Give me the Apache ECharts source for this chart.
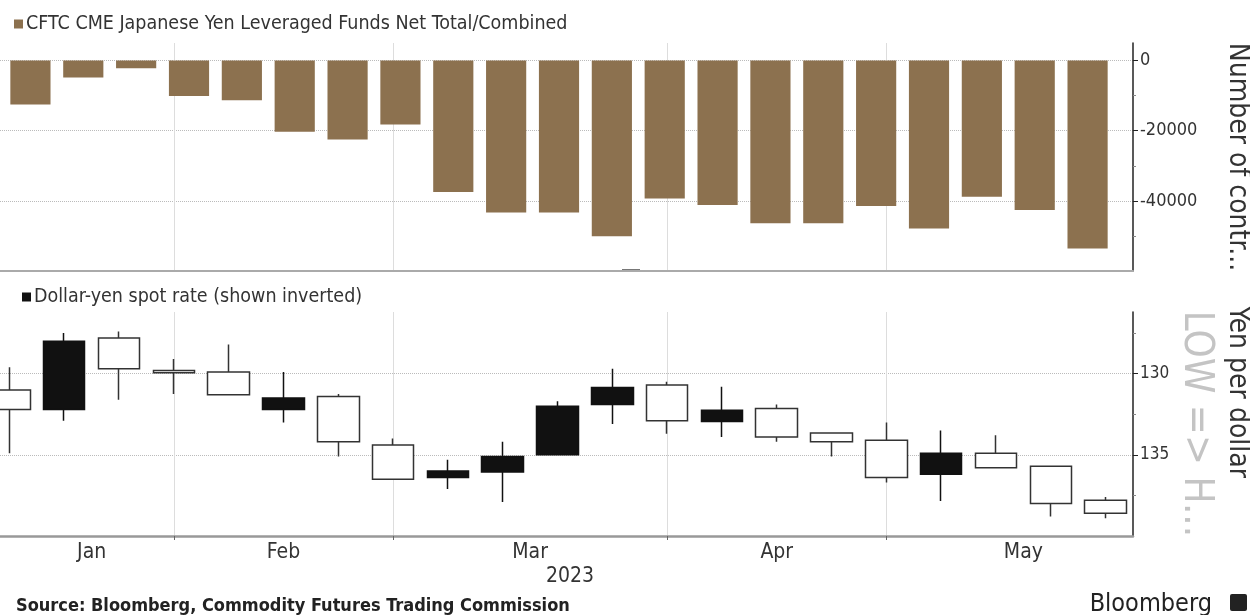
<!DOCTYPE html>
<html>
<head>
<meta charset="utf-8">
<script src="https://cdn.jsdelivr.net/npm/echarts@6/dist/echarts.min.js"></script>
<style>
html, body { margin: 0; padding: 0; background: #fff; }
#chart { width: 1250px; height: 615px; }
</style>
</head>
<body>
<div id="chart"></div>
<script>
// CFTC report dates (Tuesdays) and leveraged funds net positions
var cftcDates = ['2023-01-03','2023-01-10','2023-01-17','2023-01-24','2023-01-31','2023-02-07','2023-02-14',
    '2023-02-21','2023-02-28','2023-03-07','2023-03-14','2023-03-21','2023-03-28','2023-04-04','2023-04-11',
    '2023-04-18','2023-04-25','2023-05-02','2023-05-09','2023-05-16','2023-05-23'];
var netPositions = [-12500,-4800,-2200,-10100,-11300,-20300,-22500,-18200,-37500,-43300,-43300,
    -50100,-39300,-41200,-46400,-46400,-41500,-47900,-38800,-42600,-53600];
var contractTicks = [-40000, -20000, 0];
var contractMinorTicks = [-50000, -30000, -10000];

// weekly USDJPY candles (week ending)
var weeks = ['2023-01-06','2023-01-13','2023-01-20','2023-01-27','2023-02-03','2023-02-10','2023-02-17',
    '2023-02-24','2023-03-03','2023-03-10','2023-03-17','2023-03-24','2023-03-31','2023-04-07','2023-04-14',
    '2023-04-21','2023-04-28','2023-05-05','2023-05-12','2023-05-19','2023-05-26'];
var usdOpen  = [131.0,132.2,127.8,129.8,129.9,132.2,131.4,134.4,136.4,136.05,135.0,131.9,130.7,132.95,132.15,133.65,134.1,136.2,134.9,135.7,137.8];
var usdClose = [132.2,128.0,129.7,129.95,131.3,131.5,134.2,136.5,136.0,135.1,132.0,130.85,132.9,132.25,133.9,134.2,136.4,134.9,135.8,138.0,138.6];
var usdLow   = [129.6,127.5,127.4,129.1,128.2,129.9,131.25,134.0,135.3,134.2,131.7,129.7,130.5,130.8,131.9,133.65,133.0,133.5,133.8,135.7,137.6];
var usdHigh  = [134.9,132.9,131.6,131.25,131.3,133.0,135.1,136.5,137.1,137.9,135.0,133.1,133.7,133.9,134.2,135.1,136.7,137.85,135.8,138.8,138.9];

var monthLabels = ['Jan','Feb','Mar','Apr','May'];
var yenTicks = [130, 135];
var yenMinorTicks = [127.5, 132.5, 137.5];

// last week of each month -> vertical grid lines, labels centred between them
var monthEnds = [];
for (var i = 0; i < weeks.length - 1; i++) {
    if (weeks[i].slice(5, 7) != weeks[i + 1].slice(5, 7)) monthEnds.push(i);
}
var bounds = [0].concat(monthEnds, [weeks.length]);
var monthMids = [];
for (var j = 0; j < bounds.length - 1; j++) monthMids.push((bounds[j] + bounds[j + 1]) / 2);

var candleData = weeks.map(function (w, k) {
    return [usdOpen[k], usdClose[k], usdLow[k], usdHigh[k]];
});

var FONT = "'DejaVu Sans Condensed', 'Liberation Sans Narrow', 'DejaVu Sans', sans-serif";
var barName = 'CFTC CME Japanese Yen Leveraged Funds Net Total/Combined';
var fxName = 'Dollar-yen spot rate (shown inverted)';

var chart = echarts.init(document.getElementById('chart'));
var opt = {
    backgroundColor: '#fff',
    animation: false,
    textStyle: {fontFamily: FONT},
    title: [
        {text: 'Source: Bloomberg, Commodity Futures Trading Commission', left: 11, top: 592,
         textStyle: {fontFamily: FONT, fontSize: 18, fontWeight: 'bold', color: '#222'}},
        {text: 'Bloomberg', right: 33, top: 587,
         textStyle: {fontFamily: FONT, fontSize: 25, fontWeight: 'normal', color: '#222'}}
    ],
    graphic: [
        {type: 'rect', left: 1230, top: 594, shape: {width: 17, height: 17, r: 2}, style: {fill: '#222'}},
        {type: 'rect', left: 622, top: 269, shape: {width: 18, height: 3}, style: {fill: '#777'}}
    ],
    legend: [
        {data: [{name: barName, icon: 'rect'}], left: 9, top: 9, itemWidth: 9, itemHeight: 9, itemGap: 2,
         textStyle: {fontFamily: FONT, fontSize: 19.5, color: '#333', padding: [0, 0, 0, -2]}},
        {data: [{name: fxName, icon: 'rect', itemStyle: {color: '#111', borderWidth: 0}}], left: 17, top: 282,
         itemWidth: 9, itemHeight: 9, itemGap: 2,
         textStyle: {fontFamily: FONT, fontSize: 19.5, color: '#333', padding: [0, 0, 0, -2]}}
    ],
    grid: [
        {left: -18, right: 117, top: 43, height: 228, outerBoundsMode: 'none'},
        {left: 4, right: 136, top: 43, height: 228, outerBoundsMode: 'none'},
        {left: -18, right: 117, top: 312, height: 224, outerBoundsMode: 'none'}
    ],
    xAxis: [
        {gridIndex: 0, type: 'value', min: -0.5, max: weeks.length - 0.5, position: 'bottom',
         axisLine: {show: true, onZero: false, lineStyle: {color: '#aaa', width: 2}},
         axisTick: {show: false, customValues: monthEnds}, axisLabel: {show: false},
         splitLine: {show: true, lineStyle: {color: '#ddd', width: 1}}},
        {gridIndex: 1, type: 'category', data: cftcDates, show: false},
        {gridIndex: 2, type: 'category', data: weeks, position: 'bottom',
         axisLine: {show: true, onZero: false, lineStyle: {color: '#999', width: 2.5}},
         axisTick: {show: false}, axisLabel: {show: false}, splitLine: {show: false}},
        {gridIndex: 2, type: 'value', min: -0.5, max: weeks.length - 0.5, position: 'bottom',
         axisLine: {show: false, onZero: false},
         axisTick: {show: true, customValues: monthEnds, length: 4, lineStyle: {color: '#666'}},
         axisLabel: {customValues: monthMids, margin: 6, fontSize: 21, color: '#333',
            formatter: function (v) { return monthLabels[monthMids.indexOf(v)]; }},
         splitLine: {show: true, lineStyle: {color: '#ddd', width: 1}},
         name: '2023', nameLocation: 'middle', nameGap: 30,
         nameTextStyle: {fontSize: 21, color: '#333', padding: [0, 0, 0, 25]}}
    ],
    yAxis: [
        {gridIndex: 0, type: 'value', position: 'right', min: -60000, max: 5000,
         axisLine: {show: true, onZero: false, lineStyle: {color: '#222', width: 1.5}},
         axisTick: {show: true, customValues: contractTicks, length: 5, lineStyle: {color: '#222'}},
         axisLabel: {customValues: contractTicks, margin: 7, fontSize: 18, color: '#333',
            formatter: function (v) { return String(v); }},
         splitLine: {show: true, lineStyle: {type: 'dotted', color: '#bbb'}},
         name: 'Number of contr...', nameLocation: 'middle', nameRotate: -90, nameGap: 90,
         nameTextStyle: {fontSize: 28, color: '#333'}},
        {gridIndex: 1, type: 'value', min: -60000, max: 5000, show: false},
        {gridIndex: 0, type: 'value', position: 'right', min: -60000, max: 5000,
         axisLine: {show: false, onZero: false},
         axisTick: {show: true, customValues: contractMinorTicks, length: 3, lineStyle: {color: '#888'}},
         axisLabel: {show: false}, splitLine: {show: false}},
        {gridIndex: 2, type: 'value', position: 'right', inverse: true, min: 126.2, max: 140,
         axisLine: {show: true, onZero: false, lineStyle: {color: '#222', width: 1.5}},
         axisTick: {show: true, customValues: yenTicks, length: 5, lineStyle: {color: '#222'}},
         axisLabel: {customValues: yenTicks, margin: 7, fontSize: 17, color: '#333'},
         splitLine: {show: true, lineStyle: {type: 'dotted', color: '#bbb'}},
         name: 'Yen per dollar', nameLocation: 'middle', nameRotate: -90, nameGap: 90,
         nameTextStyle: {fontSize: 28, color: '#333', padding: [0, 64, 0, 0]}},
        {gridIndex: 2, type: 'value', position: 'right', inverse: true, min: 126.2, max: 140,
         axisLine: {show: false, onZero: false},
         axisTick: {show: true, customValues: yenMinorTicks, length: 3, lineStyle: {color: '#888'}},
         axisLabel: {show: false}, splitLine: {show: false},
         name: 'LOW => H...', nameLocation: 'middle', nameRotate: -90, nameGap: 42,
         nameTextStyle: {fontSize: 40, color: '#c4c4c4'}}
    ],
    series: [
        {name: barName, type: 'bar', xAxisIndex: 1, yAxisIndex: 1, data: netPositions,
         barCategoryGap: '24%', itemStyle: {color: '#8c714f'}},
        {name: fxName, type: 'candlestick', xAxisIndex: 2, yAxisIndex: 3, data: candleData,
         barWidth: 42,
         itemStyle: {color: '#ffffff', color0: '#111111', borderColor: '#333333', borderColor0: '#111111',
            borderColorDoji: '#333333', borderWidth: 1.5}}
    ]
};
chart.setOption(opt);
</script>
</body>
</html>
